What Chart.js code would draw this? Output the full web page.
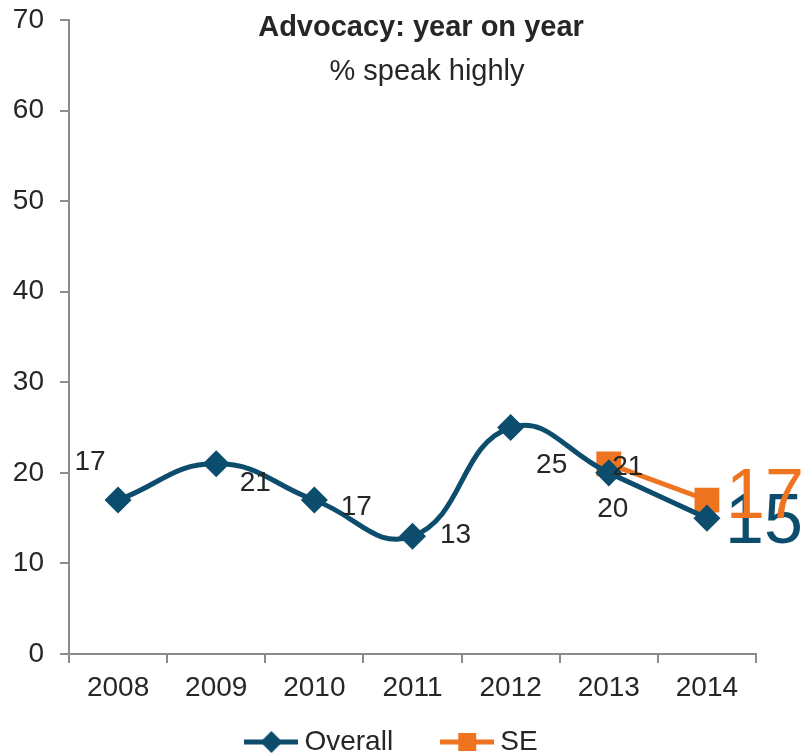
<!DOCTYPE html>
<html>
<head>
<meta charset="utf-8">
<script src="https://cdn.jsdelivr.net/npm/chart.js@4/dist/chart.umd.min.js"></script>
<style>
  html, body { margin: 0; padding: 0; background: #fff; }
  #wrap { width: 802px; height: 756px; position: relative; }
</style>
</head>
<body>
<div id="wrap"><canvas id="chart_advocacy"></canvas></div>
<script>
// data
var years = ['2008', '2009', '2010', '2011', '2012', '2013', '2014'];
var overallValues = [17, 21, 17, 13, 25, 20, 15];
var seValues = [null, null, null, null, null, 21, 17];
var yTicks = [0, 10, 20, 30, 40, 50, 60, 70];

var overallColor = '#0c4d6d';
var seColor = '#ee7420';
var textColor = '#262626';
var labelFont = 'Liberation Sans, Arial, sans-serif';

// where each value label sits, relative to its point: dx, dy, font size
// (small labels are centred on dy, the big end labels sit on a baseline at dy)
var overallLabelPos = [[-28, -38, 28], [39, 19, 28], [42, 7, 28], [43, -1, 28], [41, 38, 28], [4, 36, 28], [57, 25, 70]];
var seLabelPos = [null, null, null, null, null, [19, 3, 28], [58, 18, 70]];

function legendIcon(color, style) {
    var c = document.createElement('canvas');
    c.width = 54; c.height = 22;
    var g = c.getContext('2d');
    g.strokeStyle = color; g.lineWidth = 5;
    g.beginPath(); g.moveTo(0, 11); g.lineTo(54, 11); g.stroke();
    g.fillStyle = color;
    if (style === 'diamond') {
        g.beginPath(); g.moveTo(27, 0); g.lineTo(38, 11); g.lineTo(27, 22); g.lineTo(16, 11); g.closePath(); g.fill();
    } else {
        g.fillRect(18, 2, 18, 18);
    }
    return c;
}

var chart_advocacy = new Chart(document.getElementById('chart_advocacy'), {
    type: 'line',
    data: {
        labels: years,
        datasets: [
            {
                label: 'Overall',
                data: overallValues,
                borderColor: overallColor,
                backgroundColor: overallColor,
                borderWidth: 5,
                tension: 0.45,
                pointStyle: 'rectRot',
                pointRadius: 10,
                pointHoverRadius: 10,
                labelPos: overallLabelPos,
                labelColor: [textColor, textColor, textColor, textColor, textColor, textColor, overallColor]
            },
            {
                label: 'SE',
                data: seValues,
                borderColor: seColor,
                backgroundColor: seColor,
                borderWidth: 5,
                tension: 0,
                pointStyle: 'rect',
                pointRadius: 14,
                pointHoverRadius: 14,
                labelPos: seLabelPos,
                labelColor: [null, null, null, null, null, textColor, seColor]
            }
        ]
    },
    options: {
        animation: false,
        responsive: true,
        maintainAspectRatio: false,
        layout: { padding: { top: 20, right: 12, left: 0, bottom: -10 } },
        plugins: {
            title: { display: false },
            tooltip: { enabled: false },
            legend: {
                position: 'bottom',
                labels: {
                    usePointStyle: true,
                    pointStyleWidth: 38,
                    padding: 24,
                    color: textColor,
                    font: { family: labelFont, size: 28 },
                    generateLabels: function (chart) {
                        return chart.data.datasets.map(function (ds, i) {
                            return {
                                // trailing spaces widen the gap between the two entries
                                text: i === 0 ? ds.label + '    ' : ds.label,
                                pointStyle: legendIcon(ds.borderColor, i === 0 ? 'diamond' : 'square'),
                                fillStyle: ds.borderColor,
                                strokeStyle: ds.borderColor,
                                lineWidth: 0,
                                fontColor: textColor,
                                datasetIndex: i
                            };
                        });
                    }
                }
            }
        },
        scales: {
            x: {
                offset: true,
                grid: { offset: true, drawOnChartArea: false, drawTicks: true, tickLength: 9, color: '#8c8c8c', lineWidth: 2 },
                border: { color: '#8c8c8c', width: 2 },
                ticks: { color: textColor, padding: 8, font: { family: labelFont, size: 28 } },
                afterFit: function (scale) {
                    scale.height = 50;
                    scale.paddingRight = 46;
                }
            },
            y: {
                min: 0,
                max: 70,
                afterBuildTicks: function (scale) { scale.ticks = yTicks.map(function (v) { return { value: v }; }); },
                grid: { drawOnChartArea: false, drawTicks: true, tickLength: 9, color: '#8c8c8c', lineWidth: 2 },
                border: { color: '#8c8c8c', width: 2 },
                ticks: { color: textColor, padding: 16, font: { family: labelFont, size: 28 } },
                afterFit: function (scale) {
                    scale.width = 69;
                    scale.paddingTop = 0;
                    scale.paddingBottom = 0;
                }
            }
        }
    },
    plugins: [{
        id: 'titleAndLabels',
        afterDatasetsDraw: function (chart) {
            var ctx = chart.ctx;
            ctx.save();
            ctx.textAlign = 'center';
            ctx.textBaseline = 'middle';
            ctx.fillStyle = textColor;
            ctx.font = 'bold 29px ' + labelFont;
            ctx.fillText('Advocacy: year on year', 421, 28);
            ctx.font = '29px ' + labelFont;
            ctx.fillText('% speak highly', 427, 72);
            chart.data.datasets.forEach(function (ds, di) {
                var meta = chart.getDatasetMeta(di);
                ds.data.forEach(function (v, i) {
                    var pos = ds.labelPos[i];
                    if (v === null || !pos) return;
                    var pt = meta.data[i];
                    ctx.font = pos[2] + 'px ' + labelFont;
                    ctx.textBaseline = pos[2] > 40 ? 'alphabetic' : 'middle';
                    ctx.fillStyle = ds.labelColor[i];
                    ctx.fillText(String(v), pt.x + pos[0], pt.y + pos[1]);
                });
            });
            ctx.restore();
        }
    }, {
        id: 'whiteBg',
        beforeDraw: function (chart) {
            var ctx = chart.ctx;
            ctx.save();
            ctx.fillStyle = 'white';
            ctx.fillRect(0, 0, chart.width, chart.height);
            ctx.restore();
        }
    }]
});
</script>
</body>
</html>
